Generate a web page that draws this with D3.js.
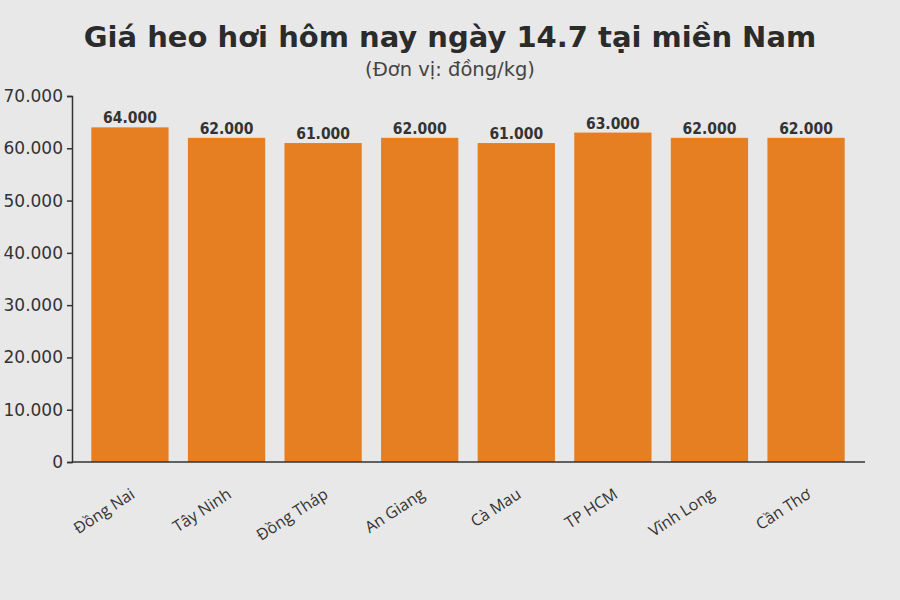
<!DOCTYPE html>
<html>
<head>
<meta charset="utf-8">
<script src="https://cdn.jsdelivr.net/npm/d3@7"></script>
<style>
  body { margin: 0; background: #e8e8e8; }
  svg { display: block; font-family: "DejaVu Sans", sans-serif; }
</style>
</head>
<body>
<svg id="chart" width="900" height="600"></svg>
<script>
var provinces = ["Đồng Nai", "Tây Ninh", "Đồng Tháp", "An Giang", "Cà Mau", "TP HCM", "Vĩnh Long", "Cần Thơ"];
var prices = [64000, 62000, 61000, 62000, 61000, 63000, 62000, 62000];
var yTicks = [0, 10000, 20000, 30000, 40000, 50000, 60000, 70000];

var svg = d3.select("#chart"),
    width = 900,
    height = 600,
    margin = {top: 96, right: 36, bottom: 138, left: 72};

var fmt = function(v) {
  return v === 0 ? "0" : d3.format(",")(v).replace(/,/g, ".");
};

svg.append("rect").attr("width", width).attr("height", height).attr("fill", "#e8e8e8");

// title
svg.append("text")
   .attr("x", width / 2).attr("y", 47)
   .attr("text-anchor", "middle")
   .style("font-size", "29px").style("font-weight", "bold")
   .attr("fill", "#2b2b2b")
   .text("Giá heo hơi hôm nay ngày 14.7 tại miền Nam");

svg.append("text")
   .attr("x", width / 2).attr("y", 76)
   .attr("text-anchor", "middle")
   .style("font-size", "19.5px")
   .attr("fill", "#444")
   .text("(Đơn vị: đồng/kg)");

var x = d3.scaleBand()
    .domain(provinces)
    .range([margin.left, width - margin.right])
    .paddingInner(0.2)
    .paddingOuter(0.2);

var y = d3.scaleLinear()
    .domain([0, 70000])
    .range([height - margin.bottom, margin.top]);

// bars
svg.append("g")
   .selectAll("rect")
   .data(prices)
   .enter().append("rect")
     .attr("x", function(d, i) { return x(provinces[i]); })
     .attr("y", function(d) { return y(d); })
     .attr("width", x.bandwidth())
     .attr("height", function(d) { return y(0) - y(d); })
     .attr("fill", "#e67e22");

// value labels
svg.append("g")
   .selectAll("text")
   .data(prices)
   .enter().append("text")
     .attr("x", function(d, i) { return x(provinces[i]) + x.bandwidth() / 2; })
     .attr("y", function(d) { return y(d) - 4; })
     .attr("text-anchor", "middle")
     .style("font-family", "'DejaVu Sans Condensed', 'DejaVu Sans', sans-serif")
     .style("font-size", "15.5px").style("font-weight", "bold")
     .attr("fill", "#333")
     .text(function(d) { return fmt(d); });

// y axis
var yAxis = svg.append("g")
   .attr("transform", "translate(" + margin.left + ",0)")
   .call(d3.axisLeft(y).tickValues(yTicks).tickFormat(fmt).tickSizeOuter(0).tickSize(5).tickPadding(4));
yAxis.selectAll("text")
     .style("font-size", "17px")
     .style("font-family", "'DejaVu Sans', sans-serif")
     .attr("fill", "#333");
yAxis.selectAll("line, path").attr("stroke", "#333").attr("stroke-width", 1.5);

// x axis
var xAxis = svg.append("g")
   .attr("transform", "translate(0," + (height - margin.bottom) + ")")
   .call(d3.axisBottom(x).tickSize(0).tickSizeOuter(0).tickPadding(0));
xAxis.select("path").attr("stroke", "#333").attr("stroke-width", 1.5)
     .attr("d", "M" + margin.left + ",0H" + (width - margin.right + 1));
xAxis.selectAll("text")
     .style("font-size", "16px")
     .style("font-family", "'Open Sans', sans-serif")
     .attr("fill", "#333")
     .attr("text-anchor", "end")
     .attr("dy", 0)
     .attr("transform", "translate(6,35) rotate(-33)");
</script>
</body>
</html>
